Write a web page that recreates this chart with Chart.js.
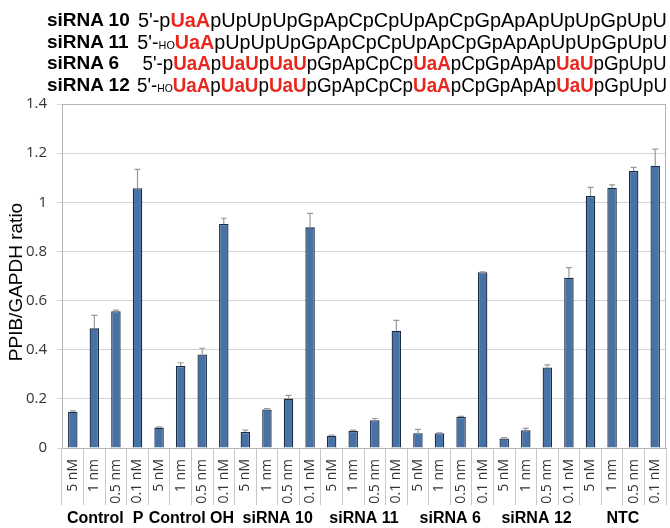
<!DOCTYPE html>
<html>
<head>
<meta charset="utf-8">
<script src="https://cdn.jsdelivr.net/npm/chart.js@4"></script>
<style>
  body{margin:0;background:#fff;}
  #wrap{position:relative;width:670px;height:528px;}
  #myChart{position:absolute;left:0;top:0;}
  .seq{position:absolute;left:0;width:667px;height:22px;line-height:22px;font-family:"Liberation Sans",Arial,sans-serif;white-space:nowrap;}
  .seq .name{position:absolute;left:47px;font-weight:bold;font-size:19px;}
  .seq .nt{position:absolute;right:0;font-size:20px;transform-origin:right center;}
  .seq b{color:#e8281e;}
  .seq small{font-size:11px;}
</style>
</head>
<body>
<div id="wrap">
<canvas id="myChart" width="670" height="528"></canvas>
<div id="header"></div>
</div>
<script>
const concentrations = ["5 nM", "1 nm", "0.5 nm", "0.1 nM"];
const groups = ["Control  P", "Control OH", "siRNA 10", "siRNA 11", "siRNA 6", "siRNA 12", "NTC"];
const ratio = [0.148, 0.487, 0.557, 1.057,
               0.083, 0.334, 0.381, 0.912,
               0.065, 0.157, 0.201, 0.898,
               0.050, 0.069, 0.113, 0.477,
               0.060, 0.060, 0.126, 0.715,
               0.039, 0.072, 0.328, 0.693,
               1.026, 1.059, 1.127, 1.149];
const errUp = [0.003, 0.053, 0.004, 0.077,
               0.003, 0.013, 0.025, 0.023,
               0.008, 0.003, 0.013, 0.057,
               0.002, 0.004, 0.007, 0.042,
               0.016, 0.002, 0.003, 0.002,
               0.003, 0.008, 0.010, 0.041,
               0.035, 0.012, 0.015, 0.067];
const yTicks = [0, 0.2, 0.4, 0.6, 0.8, 1, 1.2, 1.4];

// sequence lines, parts in red bold marked with [], subscript with {}
const seqNames = ["siRNA 10", "siRNA 11", "siRNA 6", "siRNA 12"];
const seqs = [
  "5'-p[UaA]pUpUpUpGpApCpCpUpApCpGpApApUpUpGpUpU",
  "5'-{HO}[UaA]pUpUpUpGpApCpCpUpApCpGpApApUpUpGpUpU",
  "5'-p[UaA]p[UaU]p[UaU]pGpApCpCp[UaA]pCpGpApAp[UaU]pGpUpU",
  "5'-{HO}[UaA]p[UaU]p[UaU]pGpApCpCp[UaA]pCpGpApAp[UaU]pGpUpU"
];
const seqStart = [138, 137, 143, 137];

const header = document.getElementById("header");
seqNames.forEach((n, i) => {
  const d = document.createElement("div");
  d.className = "seq";
  d.style.top = (9 + i * 21.7) + "px";
  const html = seqs[i].replace(/\[(.*?)\]/g, "<b>$1</b>").replace(/\{(.*?)\}/g, "<small>$1</small>");
  d.innerHTML = '<span class="name">' + n + '</span><span class="nt">' + html + '</span>';
  header.appendChild(d);
  const nt = d.querySelector(".nt");
  const w = nt.getBoundingClientRect().width;
  nt.style.transform = "scaleX(" + ((667 - seqStart[i]) / w) + ")";
});

let labels = [];
for (let g of groups) {
  for (let c of concentrations) labels.push(c);
}

Chart.defaults.font.family = "'Open Sans', sans-serif";
Chart.defaults.color = "#333";

const extras = {
  id: "extras",
  afterDatasetsDraw(chart) {
    const ctx = chart.ctx;
    const x = chart.scales.x, y = chart.scales.y;
    const meta = chart.getDatasetMeta(0);
    ctx.save();
    // error bars
    ctx.strokeStyle = "#999";
    ctx.lineWidth = 1.2;
    meta.data.forEach((bar, i) => {
      if (errUp[i] <= 0) return;
      const yTop = y.getPixelForValue(ratio[i] + errUp[i]);
      const yBar = y.getPixelForValue(ratio[i]);
      ctx.beginPath();
      ctx.moveTo(bar.x, yBar);
      ctx.lineTo(bar.x, yTop);
      ctx.moveTo(bar.x - 3, yTop);
      ctx.lineTo(bar.x + 3, yTop);
      ctx.stroke();
    });
    // plot frame
    const a = chart.chartArea;
    ctx.strokeStyle = "#b4b4b4";
    ctx.lineWidth = 1;
    ctx.strokeRect(a.left + 0.5, a.top + 0.5, a.right - a.left - 1, a.bottom - a.top);
    // y title
    ctx.fillStyle = "#000";
    ctx.font = "19px 'Liberation Sans', Arial, sans-serif";
    ctx.textAlign = "center";
    ctx.textBaseline = "middle";
    ctx.save();
    ctx.translate(17, 282);
    ctx.rotate(-Math.PI / 2);
    ctx.fillText("PPIB/GAPDH ratio", 0, 0);
    ctx.restore();
    // group labels
    ctx.font = "bold 16px 'Liberation Sans', Arial, sans-serif";
    groups.forEach((g, gi) => {
      const x1 = x.getPixelForValue(gi * concentrations.length);
      const x2 = x.getPixelForValue(gi * concentrations.length + concentrations.length - 1);
      ctx.fillText(g, (x1 + x2) / 2, 519);
    });
    ctx.restore();
  }
};

const myChart = new Chart(document.getElementById("myChart"), {
  type: "bar",
  data: {
    labels: labels,
    datasets: [{
      label: "PPIB/GAPDH ratio",
      data: ratio,
      backgroundColor: "#4672a6",
      borderColor: "#1c2c42",
      borderWidth: 1.3,
      barPercentage: 0.44,
      categoryPercentage: 1
    }]
  },
  options: {
    responsive: false,
    animation: false,
    layout: { padding: { top: 104, right: 4, left: 0, bottom: 0 } },
    plugins: {
      legend: { display: false },
      tooltip: { enabled: false }
    },
    scales: {
      x: {
        afterFit(s) { s.height = 80; },
        grid: { drawOnChartArea: false, drawTicks: true, tickLength: 57, color: "#c8c8c8", offset: true },
        border: { color: "#b4b4b4" },
        ticks: { minRotation: 90, maxRotation: 90, padding: -46, color: "#333", font: { size: 14 } }
      },
      y: {
        min: 0,
        max: 1.4,
        afterFit(s) { s.width = 62; },
        afterBuildTicks(s) { s.ticks = yTicks.map(v => ({ value: v })); },
        grid: { color: "#d4d4d4", tickLength: 5 },
        border: { color: "#b4b4b4" },
        ticks: { padding: 10, color: "#333", font: { size: 15 }, callback: v => String(+v.toFixed(1)) }
      }
    }
  },
  plugins: [extras]
});
</script>
</body>
</html>
